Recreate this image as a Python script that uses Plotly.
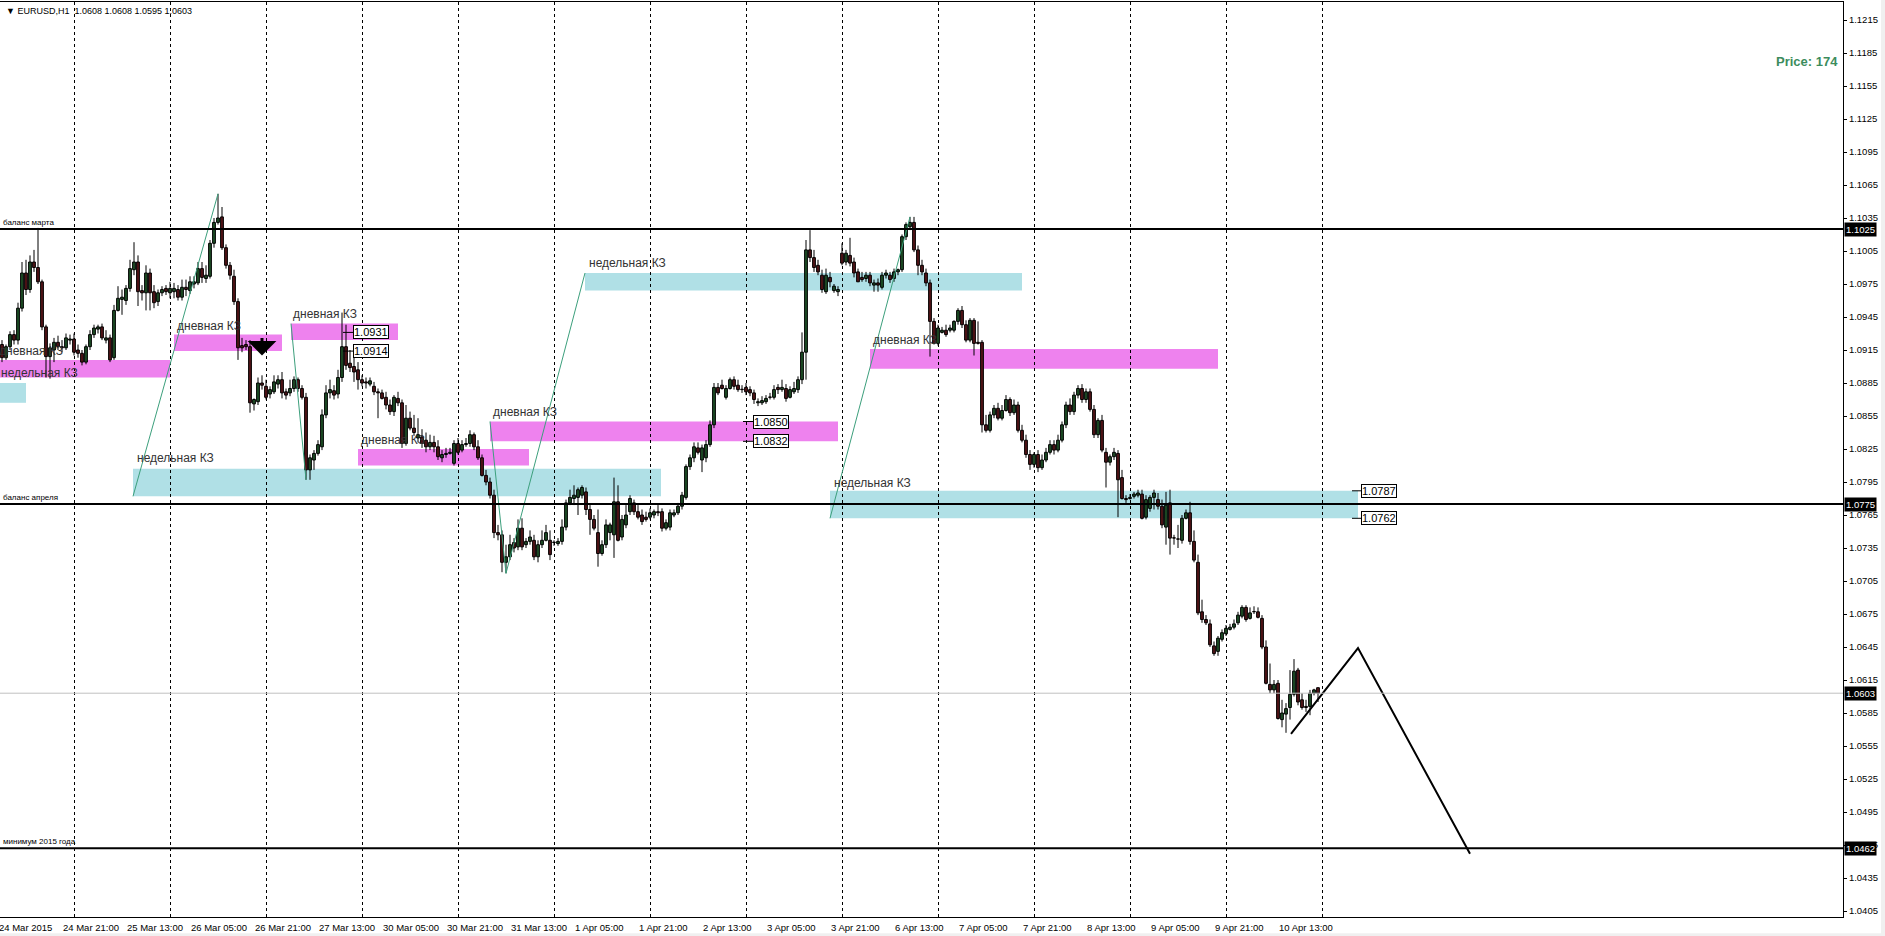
import plotly.graph_objects as go

# H1 bars, numbered from 24 Mar 21:00 (= 0); weekend hours are skipped like in MT4
bars = list(range(-15, 315))

opens = [
    1.0920, 1.0908, 1.0918, 1.0929, 1.0924, 1.0953, 1.0985, 1.0970, 1.0995, 1.0990,
    1.0977, 1.0936, 1.0909, 1.0915, 1.0922, 1.0918, 1.0917, 1.0924, 1.0925, 1.0915,
    1.0912, 1.0904, 1.0918, 1.0929, 1.0934, 1.0936, 1.0924, 1.0926, 1.0908, 1.0951,
    1.0961, 1.0960, 1.0971, 1.0988, 1.0995, 1.0969, 1.0967, 1.0985, 1.0968, 1.0959,
    1.0967, 1.0971, 1.0967, 1.0968, 1.0970, 1.0963, 1.0972, 1.0969, 1.0975, 1.0976,
    1.0989, 1.0980, 1.0982, 1.1012, 1.1031, 1.1036, 1.1008, 1.0992, 1.0982, 1.0959,
    1.0919, 1.0920, 1.0918, 1.0866, 1.0868, 1.0885, 1.0882, 1.0875, 1.0877, 1.0884,
    1.0888, 1.0877, 1.0876, 1.0880, 1.0888, 1.0880, 1.0872, 1.0806, 1.0815, 1.0821,
    1.0827, 1.0856, 1.0876, 1.0878, 1.0875, 1.0890, 1.0918, 1.0903, 1.0900, 1.0897,
    1.0888, 1.0886, 1.0884, 1.0882, 1.0877, 1.0876, 1.0872, 1.0865, 1.0859, 1.0871,
    1.0867, 1.0830, 1.0853, 1.0844, 1.0835, 1.0836, 1.0833, 1.0827, 1.0831, 1.0827,
    1.0817, 1.0820, 1.0821, 1.0812, 1.0830, 1.0824, 1.0829, 1.0830, 1.0838, 1.0827,
    1.0817, 1.0801, 1.0795, 1.0783, 1.0749, 1.0747, 1.0722, 1.0727, 1.0740, 1.0736,
    1.0753, 1.0738, 1.0741, 1.0742, 1.0727, 1.0738, 1.0742, 1.0742, 1.0740, 1.0739,
    1.0741, 1.0754, 1.0776, 1.0780, 1.0781, 1.0783, 1.0786, 1.0770, 1.0761, 1.0749,
    1.0730, 1.0738, 1.0749, 1.0747, 1.0777, 1.0745, 1.0756, 1.0768, 1.0776, 1.0768,
    1.0765, 1.0763, 1.0763, 1.0765, 1.0768, 1.0768, 1.0753, 1.0754, 1.0765, 1.0767,
    1.0773, 1.0781, 1.0809, 1.0817, 1.0826, 1.0815, 1.0817, 1.0829, 1.0847, 1.0881,
    1.0883, 1.0872, 1.0880, 1.0888, 1.0883, 1.0879, 1.0881, 1.0879, 1.0876, 1.0867,
    1.0867, 1.0868, 1.0872, 1.0872, 1.0881, 1.0879, 1.0880, 1.0872, 1.0877, 1.0879,
    1.0888, 1.0913, 1.1006, 1.0999, 1.0992, 1.0983, 1.0968, 1.0981, 1.0969, 1.0968,
    1.1003, 1.0995, 1.1001, 1.0995, 1.0986, 1.0981, 1.0980, 1.0983, 1.0974, 1.0976,
    1.0972, 1.0983, 1.0983, 1.0980, 1.0986, 1.0988, 1.1018, 1.1027, 1.1031, 1.1006,
    1.0992, 1.0985, 1.0976, 1.0941, 1.0921, 1.0931, 1.0933, 1.0933, 1.0933, 1.0941,
    1.0951, 1.0938, 1.0924, 1.0942, 1.0922, 1.0922, 1.0847, 1.0842, 1.0856, 1.0862,
    1.0853, 1.0860, 1.0870, 1.0858, 1.0865, 1.0842, 1.0833, 1.0820, 1.0811, 1.0820,
    1.0808, 1.0815, 1.0822, 1.0829, 1.0824, 1.0833, 1.0847, 1.0865, 1.0859, 1.0874,
    1.0880, 1.0870, 1.0877, 1.0861, 1.0838, 1.0851, 1.0822, 1.0813, 1.0818, 1.0821,
    1.0799, 1.0780, 1.0780, 1.0782, 1.0783, 1.0784, 1.0763, 1.0771, 1.0781, 1.0779,
    1.0773, 1.0754, 1.0776, 1.0744, 1.0743, 1.0742, 1.0762, 1.0767, 1.0741, 1.0722,
    1.0677, 1.0670, 1.0666, 1.0646, 1.0641, 1.0652, 1.0657, 1.0661, 1.0663, 1.0667,
    1.0673, 1.0681, 1.0671, 1.0677, 1.0677, 1.0671, 1.0645, 1.0611, 1.0606, 1.0612,
    1.0579, 1.0584, 1.0590, 1.0602, 1.0624, 1.0597, 1.0591, 1.0591, 1.0603, 1.0608,
]
highs = [
    1.0924, 1.0920, 1.0932, 1.0933, 1.0958, 1.0995, 1.0997, 1.1001, 1.1006, 1.1026,
    1.0979, 1.0938, 1.0921, 1.0926, 1.0928, 1.0924, 1.0930, 1.0929, 1.0930, 1.0920,
    1.0915, 1.0920, 1.0933, 1.0938, 1.0938, 1.0939, 1.0933, 1.0929, 1.0956, 1.0973,
    1.0970, 1.0974, 1.0997, 1.1013, 1.1001, 1.0974, 1.0992, 1.0989, 1.0974, 1.0970,
    1.0973, 1.0974, 1.0977, 1.0976, 1.0974, 1.0979, 1.0979, 1.0982, 1.0982, 1.0995,
    1.0995, 1.0992, 1.1015, 1.1035, 1.1057, 1.1045, 1.1011, 1.0995, 1.0988, 1.0962,
    1.0926, 1.0924, 1.0924, 1.0871, 1.0890, 1.0892, 1.0888, 1.0882, 1.0892, 1.0892,
    1.0895, 1.0880, 1.0888, 1.0891, 1.0890, 1.0883, 1.0876, 1.0820, 1.0824, 1.0833,
    1.0861, 1.0883, 1.0888, 1.0883, 1.0897, 1.0949, 1.0938, 1.0915, 1.0910, 1.0904,
    1.0892, 1.0890, 1.0890, 1.0886, 1.0880, 1.0879, 1.0877, 1.0870, 1.0874, 1.0877,
    1.0870, 1.0865, 1.0859, 1.0856, 1.0853, 1.0843, 1.0840, 1.0838, 1.0837, 1.0833,
    1.0824, 1.0826, 1.0826, 1.0833, 1.0835, 1.0833, 1.0835, 1.0842, 1.0840, 1.0833,
    1.0820, 1.0806, 1.0799, 1.0788, 1.0756, 1.0751, 1.0738, 1.0747, 1.0744, 1.0761,
    1.0762, 1.0744, 1.0751, 1.0747, 1.0742, 1.0751, 1.0756, 1.0751, 1.0742, 1.0744,
    1.0761, 1.0779, 1.0788, 1.0792, 1.0790, 1.0792, 1.0790, 1.0774, 1.0765, 1.0770,
    1.0742, 1.0761, 1.0758, 1.0799, 1.0792, 1.0765, 1.0774, 1.0783, 1.0779, 1.0774,
    1.0770, 1.0768, 1.0771, 1.0770, 1.0774, 1.0771, 1.0761, 1.0770, 1.0770, 1.0776,
    1.0786, 1.0811, 1.0820, 1.0831, 1.0831, 1.0829, 1.0833, 1.0851, 1.0885, 1.0885,
    1.0888, 1.0883, 1.0890, 1.0891, 1.0888, 1.0883, 1.0885, 1.0882, 1.0879, 1.0871,
    1.0873, 1.0874, 1.0876, 1.0883, 1.0884, 1.0888, 1.0884, 1.0882, 1.0886, 1.0891,
    1.0931, 1.1015, 1.1024, 1.1006, 1.0997, 1.0988, 1.0989, 1.0986, 1.0975, 1.0973,
    1.1012, 1.1006, 1.1017, 1.0999, 1.0989, 1.0986, 1.0986, 1.0986, 1.0979, 1.0980,
    1.0986, 1.0988, 1.0986, 1.0989, 1.0989, 1.1020, 1.1031, 1.1036, 1.1036, 1.1010,
    1.0997, 1.0989, 1.0979, 1.0944, 1.0938, 1.0936, 1.0938, 1.0938, 1.0942, 1.0953,
    1.0955, 1.0942, 1.0944, 1.0944, 1.0941, 1.0924, 1.0856, 1.0859, 1.0865, 1.0867,
    1.0865, 1.0874, 1.0872, 1.0870, 1.0868, 1.0847, 1.0838, 1.0824, 1.0822, 1.0824,
    1.0820, 1.0826, 1.0833, 1.0833, 1.0838, 1.0850, 1.0868, 1.0871, 1.0877, 1.0883,
    1.0884, 1.0880, 1.0880, 1.0865, 1.0853, 1.0856, 1.0826, 1.0820, 1.0826, 1.0824,
    1.0806, 1.0783, 1.0784, 1.0786, 1.0788, 1.0788, 1.0783, 1.0783, 1.0788, 1.0785,
    1.0779, 1.0786, 1.0788, 1.0747, 1.0756, 1.0765, 1.0770, 1.0777, 1.0751, 1.0729,
    1.0688, 1.0674, 1.0670, 1.0650, 1.0655, 1.0661, 1.0665, 1.0666, 1.0670, 1.0677,
    1.0683, 1.0683, 1.0681, 1.0682, 1.0681, 1.0674, 1.0651, 1.0630, 1.0615, 1.0615,
    1.0597, 1.0594, 1.0624, 1.0634, 1.0626, 1.0603, 1.0597, 1.0606, 1.0607, 1.0608,
]
lows = [
    1.0904, 1.0906, 1.0915, 1.0920, 1.0920, 1.0950, 1.0965, 1.0967, 1.0986, 1.0975,
    1.0933, 1.0890, 1.0889, 1.0904, 1.0915, 1.0913, 1.0915, 1.0920, 1.0910, 1.0908,
    1.0901, 1.0902, 1.0915, 1.0926, 1.0930, 1.0924, 1.0921, 1.0904, 1.0906, 1.0950,
    1.0947, 1.0956, 1.0968, 1.0983, 1.0955, 1.0960, 1.0951, 1.0951, 1.0953, 1.0955,
    1.0964, 1.0965, 1.0962, 1.0962, 1.0960, 1.0960, 1.0964, 1.0966, 1.0971, 1.0974,
    1.0976, 1.0976, 1.0980, 1.1008, 1.1029, 1.1006, 1.0989, 1.0979, 1.0956, 1.0906,
    1.0913, 1.0915, 1.0858, 1.0860, 1.0865, 1.0879, 1.0870, 1.0871, 1.0875, 1.0880,
    1.0871, 1.0870, 1.0873, 1.0877, 1.0877, 1.0870, 1.0797, 1.0797, 1.0806, 1.0819,
    1.0824, 1.0853, 1.0871, 1.0870, 1.0871, 1.0886, 1.0897, 1.0895, 1.0886, 1.0879,
    1.0882, 1.0880, 1.0882, 1.0874, 1.0853, 1.0870, 1.0861, 1.0856, 1.0855, 1.0864,
    1.0826, 1.0828, 1.0842, 1.0837, 1.0831, 1.0826, 1.0822, 1.0824, 1.0822, 1.0815,
    1.0813, 1.0817, 1.0820, 1.0810, 1.0820, 1.0822, 1.0827, 1.0827, 1.0824, 1.0815,
    1.0800, 1.0792, 1.0780, 1.0744, 1.0742, 1.0713, 1.0712, 1.0724, 1.0731, 1.0733,
    1.0733, 1.0735, 1.0738, 1.0724, 1.0722, 1.0735, 1.0741, 1.0724, 1.0737, 1.0737,
    1.0738, 1.0751, 1.0774, 1.0774, 1.0765, 1.0780, 1.0765, 1.0747, 1.0751, 1.0718,
    1.0728, 1.0735, 1.0742, 1.0726, 1.0741, 1.0742, 1.0753, 1.0765, 1.0765, 1.0761,
    1.0756, 1.0759, 1.0761, 1.0762, 1.0764, 1.0750, 1.0751, 1.0751, 1.0763, 1.0765,
    1.0770, 1.0779, 1.0806, 1.0813, 1.0820, 1.0804, 1.0813, 1.0827, 1.0844, 1.0874,
    1.0879, 1.0870, 1.0879, 1.0879, 1.0877, 1.0876, 1.0874, 1.0873, 1.0866, 1.0864,
    1.0865, 1.0866, 1.0870, 1.0870, 1.0875, 1.0877, 1.0868, 1.0871, 1.0875, 1.0876,
    1.0884, 1.0888, 1.0995, 1.0986, 1.0983, 1.0967, 1.0966, 1.0972, 1.0967, 1.0964,
    1.0992, 1.0992, 1.0991, 1.0981, 1.0977, 1.0977, 1.0977, 1.0973, 1.0968, 1.0968,
    1.0970, 1.0980, 1.0976, 1.0977, 1.0983, 1.0986, 1.1015, 1.1024, 1.1004, 1.0983,
    1.0983, 1.0973, 1.0909, 1.0920, 1.0919, 1.0930, 1.0927, 1.0931, 1.0931, 1.0938,
    1.0935, 1.0922, 1.0922, 1.0910, 1.0920, 1.0840, 1.0840, 1.0840, 1.0853, 1.0851,
    1.0851, 1.0859, 1.0855, 1.0856, 1.0840, 1.0831, 1.0817, 1.0806, 1.0808, 1.0804,
    1.0806, 1.0813, 1.0820, 1.0820, 1.0822, 1.0831, 1.0844, 1.0856, 1.0856, 1.0871,
    1.0867, 1.0867, 1.0859, 1.0835, 1.0835, 1.0822, 1.0790, 1.0810, 1.0815, 1.0763,
    1.0779, 1.0776, 1.0779, 1.0780, 1.0781, 1.0761, 1.0761, 1.0768, 1.0770, 1.0770,
    1.0753, 1.0738, 1.0729, 1.0738, 1.0735, 1.0739, 1.0761, 1.0738, 1.0722, 1.0674,
    1.0667, 1.0665, 1.0645, 1.0637, 1.0637, 1.0650, 1.0655, 1.0660, 1.0661, 1.0665,
    1.0671, 1.0668, 1.0670, 1.0675, 1.0671, 1.0643, 1.0611, 1.0603, 1.0603, 1.0579,
    1.0572, 1.0567, 1.0579, 1.0600, 1.0592, 1.0588, 1.0586, 1.0583, 1.0601, 1.0595,
]
closes = [
    1.0908, 1.0918, 1.0929, 1.0924, 1.0953, 1.0985, 1.0970, 1.0995, 1.0990, 1.0977,
    1.0936, 1.0909, 1.0917, 1.0922, 1.0918, 1.0917, 1.0926, 1.0925, 1.0913, 1.0912,
    1.0904, 1.0918, 1.0929, 1.0935, 1.0936, 1.0926, 1.0926, 1.0906, 1.0951, 1.0962,
    1.0963, 1.0971, 1.0989, 1.0995, 1.0968, 1.0967, 1.0985, 1.0967, 1.0958, 1.0967,
    1.0970, 1.0968, 1.0971, 1.0971, 1.0963, 1.0972, 1.0970, 1.0977, 1.0977, 1.0989,
    1.0981, 1.0983, 1.1012, 1.1031, 1.1035, 1.1008, 1.0992, 1.0983, 1.0959, 1.0917,
    1.0917, 1.0918, 1.0867, 1.0870, 1.0885, 1.0883, 1.0872, 1.0879, 1.0886, 1.0888,
    1.0876, 1.0874, 1.0880, 1.0888, 1.0880, 1.0872, 1.0806, 1.0817, 1.0821, 1.0829,
    1.0856, 1.0876, 1.0879, 1.0874, 1.0890, 1.0918, 1.0901, 1.0899, 1.0895, 1.0888,
    1.0885, 1.0885, 1.0887, 1.0877, 1.0876, 1.0871, 1.0865, 1.0859, 1.0872, 1.0867,
    1.0830, 1.0853, 1.0844, 1.0840, 1.0838, 1.0830, 1.0827, 1.0831, 1.0827, 1.0818,
    1.0820, 1.0821, 1.0822, 1.0830, 1.0822, 1.0829, 1.0830, 1.0838, 1.0827, 1.0817,
    1.0801, 1.0795, 1.0783, 1.0749, 1.0747, 1.0722, 1.0727, 1.0738, 1.0735, 1.0753,
    1.0736, 1.0741, 1.0745, 1.0727, 1.0738, 1.0742, 1.0749, 1.0729, 1.0740, 1.0741,
    1.0754, 1.0776, 1.0781, 1.0783, 1.0788, 1.0790, 1.0770, 1.0761, 1.0753, 1.0730,
    1.0738, 1.0756, 1.0756, 1.0777, 1.0742, 1.0761, 1.0765, 1.0780, 1.0768, 1.0763,
    1.0759, 1.0761, 1.0767, 1.0768, 1.0767, 1.0753, 1.0758, 1.0767, 1.0767, 1.0773,
    1.0783, 1.0809, 1.0817, 1.0827, 1.0822, 1.0826, 1.0829, 1.0847, 1.0881, 1.0876,
    1.0880, 1.0880, 1.0888, 1.0882, 1.0879, 1.0879, 1.0877, 1.0876, 1.0870, 1.0868,
    1.0869, 1.0871, 1.0872, 1.0879, 1.0879, 1.0881, 1.0871, 1.0879, 1.0880, 1.0888,
    1.0913, 1.1006, 1.0999, 1.0990, 1.0986, 1.0970, 1.0983, 1.0977, 1.0973, 1.0970,
    1.0994, 1.1003, 1.0994, 1.0985, 1.0977, 1.0979, 1.0983, 1.0976, 1.0976, 1.0974,
    1.0983, 1.0985, 1.0979, 1.0986, 1.0988, 1.1018, 1.1029, 1.1031, 1.1006, 1.0992,
    1.0986, 1.0976, 1.0941, 1.0921, 1.0935, 1.0933, 1.0929, 1.0935, 1.0941, 1.0951,
    1.0938, 1.0924, 1.0942, 1.0921, 1.0921, 1.0847, 1.0842, 1.0856, 1.0862, 1.0853,
    1.0860, 1.0870, 1.0858, 1.0865, 1.0842, 1.0833, 1.0820, 1.0811, 1.0820, 1.0808,
    1.0815, 1.0822, 1.0829, 1.0824, 1.0833, 1.0847, 1.0865, 1.0859, 1.0874, 1.0880,
    1.0870, 1.0877, 1.0861, 1.0838, 1.0851, 1.0824, 1.0813, 1.0818, 1.0822, 1.0797,
    1.0780, 1.0779, 1.0781, 1.0784, 1.0785, 1.0762, 1.0779, 1.0781, 1.0785, 1.0773,
    1.0756, 1.0774, 1.0744, 1.0744, 1.0743, 1.0762, 1.0767, 1.0741, 1.0724, 1.0676,
    1.0670, 1.0667, 1.0647, 1.0639, 1.0653, 1.0658, 1.0662, 1.0663, 1.0666, 1.0674,
    1.0681, 1.0670, 1.0676, 1.0677, 1.0672, 1.0645, 1.0612, 1.0606, 1.0611, 1.0580,
    1.0585, 1.0589, 1.0602, 1.0623, 1.0595, 1.0590, 1.0590, 1.0603, 1.0606, 1.0603,
]

# day separators (00:00 of each trading day)
day_lines = [3, 27, 51, 75, 99, 123, 147, 171, 195, 219, 243, 267, 291, 315]
time_pos = [0, 16, 32, 48, 64, 80, 96, 112, 128, 144, 160, 176, 192,
            208, 224, 240, 256, 272, 288, 304]
time_text = ["24 Mar 21:00", "25 Mar 13:00", "26 Mar 05:00",
             "26 Mar 21:00", "27 Mar 13:00", "30 Mar 05:00", "30 Mar 21:00",
             "31 Mar 13:00", "1 Apr 05:00", "1 Apr 21:00", "2 Apr 13:00",
             "3 Apr 05:00", "3 Apr 21:00", "6 Apr 13:00", "7 Apr 05:00",
             "7 Apr 21:00", "8 Apr 13:00", "9 Apr 05:00", "9 Apr 21:00",
             "10 Apr 13:00"]
first_date = "24 Mar 2015"

# zones: bar from, bar to, top, bottom, colour, label, label bar, label price
PINK = "#EE82EE"
BLUE = "#B0E0E6"
zones = [
    (-16, 27, 1.0906, 1.0890, PINK, "дневная КЗ", None, 1.0914),
    (-16, -9, 1.0885, 1.0867, BLUE, "недельная КЗ", None, 1.0894),
    (28, 55, 1.0929, 1.0914, PINK, "дневная КЗ", 28.2, 1.0937),
    (57.25, 84, 1.0939, 1.0924, PINK, "дневная КЗ", 57.3, 1.0948),
    (74, 116.75, 1.0825, 1.0810, PINK, "дневная КЗ", 74.2, 1.0833),
    (107, 194, 1.0850, 1.0832, PINK, "дневная КЗ", 107.2, 1.0859),
    (17.75, 149.75, 1.0807, 1.0782, BLUE, "недельная КЗ", 18.2, 1.0817),
    (130.75, 240, 1.0985, 1.0969, BLUE, "недельная КЗ", 131.2, 1.0994),
    (202, 289, 1.0916, 1.0898, PINK, "дневная КЗ", 202.2, 1.0924),
    (192, 324, 1.0787, 1.0762, BLUE, "недельная КЗ", 192.5, 1.0794),
]

# price tags: stub start bar, box bar, price
tags = [(70.25, 72.75, 1.0931), (70.25, 72.75, 1.0914),
        (170.25, 172.75, 1.0850), (170.25, 172.75, 1.0832),
        (322.5, 324.75, 1.0787), (322.5, 324.75, 1.0762)]

# thin green trend lines
trends = [((17.75, 1.0782), (39, 1.1057)),
          ((57.25, 1.0939), (61, 1.0797)),
          ((107, 1.0850), (111, 1.0712)),
          ((111, 1.0712), (130.75, 1.0985)),
          ((192, 1.0762), (212, 1.1036))]

forecast_bars = [307.25, 324, 352]
forecast_prices = [1.0566, 1.0644, 1.0457]

levels = [(1.1025, "баланс марта"), (1.0775, "баланс апреля"), (1.0462, "минимум 2015 года")]
bid = 1.0603

FONT = "Liberation Sans"
BULL = "#3A9A4A"
BEAR = "#A3272D"

fig = go.Figure()

# wicks
wx, wy = [], []
for b, h, l in zip(bars, highs, lows):
    wx += [b, b, None]
    wy += [l, h, None]
fig.add_trace(go.Scatter(x=wx, y=wy, mode="lines", line=dict(color="black", width=1),
                         hoverinfo="skip", showlegend=False))

# bodies
base = [min(o, c) for o, c in zip(opens, closes)]
height = [max(abs(c - o), 0.00003) for o, c in zip(opens, closes)]
colors = [BULL if c > o else BEAR for o, c in zip(opens, closes)]
fig.add_trace(go.Bar(x=bars, y=height, base=base, width=0.7,
                     marker=dict(color=colors, line=dict(color="black", width=1)),
                     showlegend=False, hoverinfo="skip"))

shapes = []
annotations = []

for x0, x1, y0, y1, col, txt, lx, ly in zones:
    shapes.append(dict(type="rect", x0=x0, x1=x1, y0=y0, y1=y1, fillcolor=col,
                       line=dict(width=0), layer="below"))
    lab = dict(y=ly, text=txt, showarrow=False, xanchor="left", yanchor="middle",
               font=dict(family=FONT, size=12, color="#333333"))
    if lx is None:
        # label starts at the very left edge of the window
        lab.update(xref="paper", x=0, xshift=-3 if txt.startswith("д") else -1)
    else:
        lab.update(x=lx)
    annotations.append(lab)

for (x0, y0), (x1, y1) in trends:
    shapes.append(dict(type="line", x0=x0, y0=y0, x1=x1, y1=y1,
                       line=dict(color="#3C9F7C", width=1)))

for s, bx, p in tags:
    shapes.append(dict(type="line", x0=s, x1=bx, y0=p, y1=p, line=dict(color="black", width=1)))
    annotations.append(dict(x=bx, y=p, text=f"{p:.4f}", showarrow=False, xanchor="left",
                            yanchor="middle", bgcolor="white", bordercolor="black",
                            borderwidth=1, borderpad=0,
                            font=dict(family=FONT, size=11, color="black")))

for p, txt in levels:
    shapes.append(dict(type="line", xref="paper", x0=0, x1=1, y0=p, y1=p,
                       line=dict(color="black", width=2)))
    annotations.append(dict(xref="paper", x=0.0005, y=p, text=txt, showarrow=False,
                            xanchor="left", yanchor="bottom", yshift=0,
                            font=dict(family=FONT, size=8, color="black")))

shapes.append(dict(type="line", xref="paper", x0=0, x1=1, y0=bid, y1=bid,
                   line=dict(color="#C0C0C0", width=1)))

fig.add_trace(go.Scatter(x=forecast_bars, y=forecast_prices, mode="lines",
                         line=dict(color="black", width=2), hoverinfo="skip", showlegend=False))

# right axis price boxes
for p in [1.1025, 1.0775, bid, 1.0462]:
    annotations.append(dict(xref="paper", x=1, y=p, text=f"{p:.4f}", showarrow=False,
                            xanchor="left", yanchor="middle", xshift=1, bgcolor="black",
                            borderpad=1, font=dict(family=FONT, size=9.5, color="white")))

# time scale
annotations.append(dict(xref="paper", yref="paper", x=0, y=0, text=first_date, showarrow=False,
                        xanchor="left", yanchor="top", xshift=-3, yshift=-3,
                        font=dict(family=FONT, size=9.5, color="black")))
for b, t in zip(time_pos, time_text):
    annotations.append(dict(x=b - 0.3, xref="x", yref="paper", y=0, text=t, showarrow=False,
                            xanchor="left", yanchor="top", yshift=-3,
                            font=dict(family=FONT, size=9.5, color="black")))

# sell arrow
annotations.append(dict(x=50, y=1.0910, ax=0, ay=-19, text="", showarrow=True,
                        arrowhead=1, arrowsize=1.6, arrowwidth=3, arrowcolor="black"))

annotations.append(dict(xref="paper", yref="paper", x=4 / 1843, y=1 - 9 / 915,
                        text="▼ EURUSD,H1  1.0608 1.0608 1.0595 1.0603", showarrow=False,
                        xanchor="left", yanchor="middle",
                        font=dict(family=FONT, size=9, color="black")))

annotations.append(dict(xref="paper", x=1, y=1.1177, text="<b>Price: 174</b>", showarrow=False,
                        xanchor="right", yanchor="middle", xshift=-3,
                        font=dict(family=FONT, size=13, color="#3C8C5C")))

# window border strips
shapes.append(dict(type="rect", xref="paper", yref="paper", x0=0, x1=1.03, y0=-0.0215,
                   y1=-0.0178, fillcolor="#F0F0F0", line=dict(width=0)))
shapes.append(dict(type="rect", xref="paper", yref="paper", x0=1.0206, x1=1.03, y0=-0.0215,
                   y1=1.01, fillcolor="#F0F0F0", line=dict(width=0)))

fig.update_layout(
    width=1885, height=936,
    margin=dict(l=0, r=42, t=2, b=19),
    paper_bgcolor="white", plot_bgcolor="white",
    barmode="overlay", showlegend=False,
    shapes=shapes, annotations=annotations,
    xaxis=dict(range=[-15.5, 445.25], tickvals=day_lines, showticklabels=False,
               showgrid=True, gridcolor="black", gridwidth=1, griddash="3px,3px",
               zeroline=False, showline=True, linecolor="black", linewidth=1, mirror=True,
               ticks=""),
    yaxis=dict(range=[1.039955, 1.123136], side="right", tick0=1.0405, dtick=0.003,
               tickformat=".4f", ticks="outside", ticklen=3, tickcolor="black",
               showgrid=False, zeroline=False, showline=True, linecolor="black",
               linewidth=1, tickfont=dict(family=FONT, size=9.5, color="black")),
)

fig.write_html("out.html", config={"displayModeBar": False},
               post_script="document.body.style.margin='0';")
